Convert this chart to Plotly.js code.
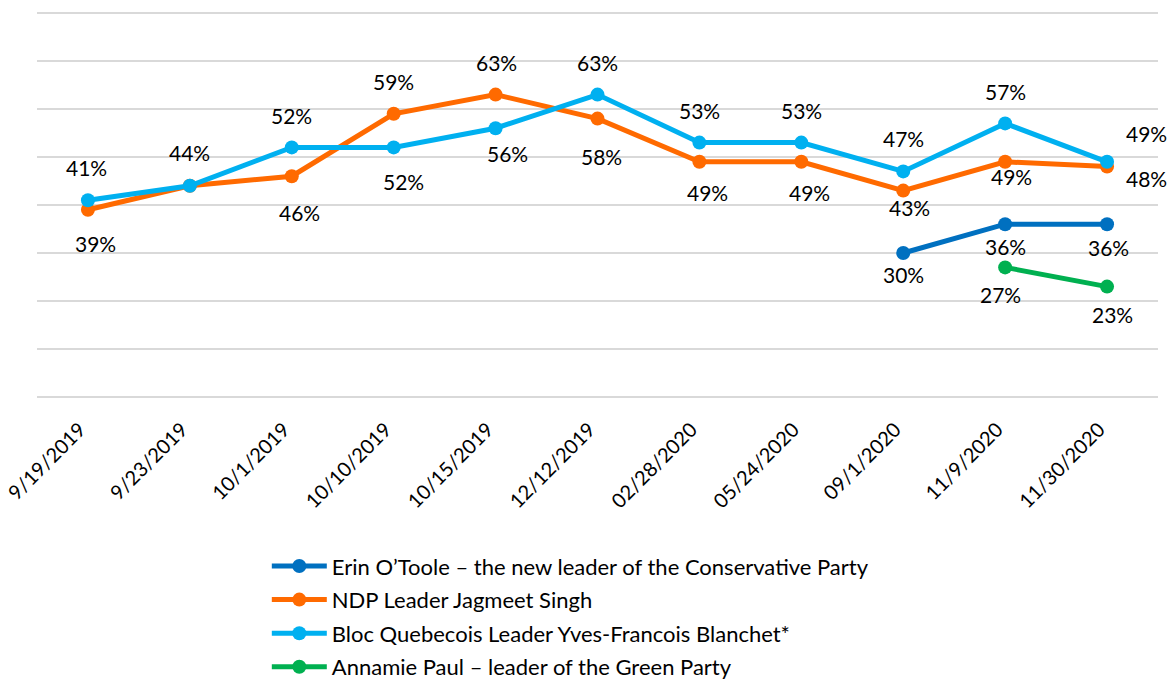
<!DOCTYPE html>
<html>
<head>
<meta charset="utf-8">
<script src="https://cdn.plot.ly/plotly-3.0.1.min.js"></script>
<style>html,body{margin:0;padding:0;background:#fff}#chart{width:1168px;height:681px}</style>
</head>
<body>
<div id="chart"></div>
<script>
// ---- data ----
const dates = ["9/19/2019","9/23/2019","10/1/2019","10/10/2019","10/15/2019","12/12/2019","02/28/2020","05/24/2020","09/1/2020","11/9/2020","11/30/2020"];
const seriesNames = [
  "Erin O\u2019Toole \u2013 the new leader of the Conservative Party",
  "NDP Leader Jagmeet Singh",
  "Bloc Quebecois Leader Yves-Francois Blanchet*",
  "Annamie Paul \u2013 leader of the Green Party"
];
const otoole = [null,null,null,null,null,null,null,null,30,36,36];
const singh  = [39,44,46,59,63,58,49,49,43,49,48];
const blanchet = [41,44,52,52,56,63,53,53,47,57,49];
const paul = [null,null,null,null,null,null,null,null,null,27,23];

// ---- styles (label offsets in px: [dx, dy-down]; null = no label) ----
const colors = ["#0070C0","#FF6A00","#00B0F0","#00B050"];
const offsets = [
  [null,null,null,null,null,null,null,null,[0,22],[0,23],[1,24]],
  [[8,35],null,[8,37],[0,-31],[1,-31],[4,39],[8,32],[8,32],[6,18],[6,16],[39,13]],
  [[-1,-32],[0,-32],[0,-31],[10,35],[12,26],[0,-31],[0,-31],[0,-31],[0,-32],[0,-31],[39,-27]],
  [null,null,null,null,null,null,null,null,null,[-5,28],[5,29]]
];
const allSeries = [otoole, singh, blanchet, paul];
const FONT = "Lato, 'Open Sans', sans-serif";

const traces = allSeries.map((ys, i) => ({
  type: "scatter", mode: "lines+markers",
  x: dates, y: ys, name: seriesNames[i],
  line: {color: colors[i], width: 5},
  marker: {color: colors[i], size: 14},
  connectgaps: false, cliponaxis: false,
  legendgroup: "g" + i
}));

const annotations = [];
allSeries.forEach((ys, i) => {
  ys.forEach((v, j) => {
    const off = offsets[i][j];
    if (v === null || !off) return;
    annotations.push({
      x: dates[j], y: v, xref: "x", yref: "y",
      text: v + "%", showarrow: false,
      xshift: off[0], yshift: -off[1] + 1,
      font: {family: FONT, size: 21, color: "#000"}
    });
  });
});

const layout = {
  width: 1168, height: 681,
  margin: {l: 37, r: 10, t: 10, b: 284, autoexpand: false},
  paper_bgcolor: "#fff", plot_bgcolor: "#fff",
  showlegend: true,
  xaxis: {
    type: "category", range: [-0.5, 10.5], automargin: false,
    showgrid: false, showline: false, zeroline: false,
    ticks: "", tickangle: -45, ticklabelstandoff: 16, ticklabelshift: -8,
    tickfont: {family: FONT, size: 20, color: "#000"}
  },
  yaxis: {
    range: [0, 80.625], dtick: 10, showticklabels: false, automargin: false,
    showgrid: true, gridcolor: "#d9d9d9", gridwidth: 1.5,
    zeroline: true, zerolinecolor: "#d9d9d9", zerolinewidth: 1.5,
    showline: false, ticks: "", fixedrange: true
  },
  legend: {
    x: 0.205, y: -0.383, xanchor: "left", yanchor: "top",
    orientation: "v", traceorder: "grouped", tracegroupgap: 2,
    itemwidth: 55,
    font: {family: FONT, size: 22, color: "#000"},
    bgcolor: "rgba(0,0,0,0)"
  },
  annotations: annotations
};

Plotly.newPlot("chart", traces, layout, {displayModeBar: false, staticPlot: true});
</script>
</body>
</html>
